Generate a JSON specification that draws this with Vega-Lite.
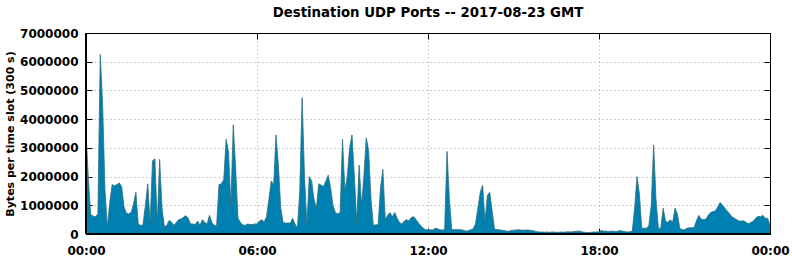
{
"$schema": "https://vega.github.io/schema/vega-lite/v6.json",
"width": 684,
"height": 201,
"autosize": "none",
"padding": {"left": 86, "top": 33, "right": 22, "bottom": 25},
"background": "white",
"config": {"font": "DejaVu Sans", "view": {"stroke": null}},
"title": {"text": "Destination UDP Ports -- 2017-08-23 GMT", "font": "DejaVu Sans", "fontSize": 13.3, "fontWeight": "bold", "color": "black", "anchor": "middle", "offset": 8},
"data": {"values": [
{"t":"2017-08-23T00:00Z","b":3550000},{"t":"2017-08-23T00:05Z","b":1900000},{"t":"2017-08-23T00:10Z","b":680000},{"t":"2017-08-23T00:15Z","b":620000},{"t":"2017-08-23T00:20Z","b":600000},{"t":"2017-08-23T00:25Z","b":700000},{"t":"2017-08-23T00:30Z","b":6250000},{"t":"2017-08-23T00:35Z","b":4500000},{"t":"2017-08-23T00:40Z","b":1500000},{"t":"2017-08-23T00:45Z","b":250000},{"t":"2017-08-23T00:50Z","b":1100000},{"t":"2017-08-23T00:55Z","b":1720000},
{"t":"2017-08-23T01:00Z","b":1680000},{"t":"2017-08-23T01:05Z","b":1720000},{"t":"2017-08-23T01:10Z","b":1780000},{"t":"2017-08-23T01:15Z","b":1650000},{"t":"2017-08-23T01:20Z","b":950000},{"t":"2017-08-23T01:25Z","b":720000},{"t":"2017-08-23T01:30Z","b":700000},{"t":"2017-08-23T01:35Z","b":750000},{"t":"2017-08-23T01:40Z","b":1050000},{"t":"2017-08-23T01:45Z","b":1450000},{"t":"2017-08-23T01:50Z","b":350000},{"t":"2017-08-23T01:55Z","b":300000},
{"t":"2017-08-23T02:00Z","b":320000},{"t":"2017-08-23T02:05Z","b":1000000},{"t":"2017-08-23T02:10Z","b":1750000},{"t":"2017-08-23T02:15Z","b":350000},{"t":"2017-08-23T02:20Z","b":2550000},{"t":"2017-08-23T02:25Z","b":2620000},{"t":"2017-08-23T02:30Z","b":350000},{"t":"2017-08-23T02:35Z","b":2600000},{"t":"2017-08-23T02:40Z","b":900000},{"t":"2017-08-23T02:45Z","b":250000},{"t":"2017-08-23T02:50Z","b":300000},{"t":"2017-08-23T02:55Z","b":470000},
{"t":"2017-08-23T03:00Z","b":420000},{"t":"2017-08-23T03:05Z","b":300000},{"t":"2017-08-23T03:10Z","b":400000},{"t":"2017-08-23T03:15Z","b":500000},{"t":"2017-08-23T03:20Z","b":520000},{"t":"2017-08-23T03:25Z","b":580000},{"t":"2017-08-23T03:30Z","b":640000},{"t":"2017-08-23T03:35Z","b":550000},{"t":"2017-08-23T03:40Z","b":350000},{"t":"2017-08-23T03:45Z","b":350000},{"t":"2017-08-23T03:50Z","b":330000},{"t":"2017-08-23T03:55Z","b":450000},
{"t":"2017-08-23T04:00Z","b":300000},{"t":"2017-08-23T04:05Z","b":500000},{"t":"2017-08-23T04:10Z","b":400000},{"t":"2017-08-23T04:15Z","b":350000},{"t":"2017-08-23T04:20Z","b":650000},{"t":"2017-08-23T04:25Z","b":400000},{"t":"2017-08-23T04:30Z","b":300000},{"t":"2017-08-23T04:35Z","b":300000},{"t":"2017-08-23T04:40Z","b":1720000},{"t":"2017-08-23T04:45Z","b":1750000},{"t":"2017-08-23T04:50Z","b":1900000},{"t":"2017-08-23T04:55Z","b":3300000},
{"t":"2017-08-23T05:00Z","b":2850000},{"t":"2017-08-23T05:05Z","b":1000000},{"t":"2017-08-23T05:10Z","b":3800000},{"t":"2017-08-23T05:15Z","b":2300000},{"t":"2017-08-23T05:20Z","b":550000},{"t":"2017-08-23T05:25Z","b":400000},{"t":"2017-08-23T05:30Z","b":320000},{"t":"2017-08-23T05:35Z","b":300000},{"t":"2017-08-23T05:40Z","b":350000},{"t":"2017-08-23T05:45Z","b":330000},{"t":"2017-08-23T05:50Z","b":330000},{"t":"2017-08-23T05:55Z","b":350000},
{"t":"2017-08-23T06:00Z","b":350000},{"t":"2017-08-23T06:05Z","b":450000},{"t":"2017-08-23T06:10Z","b":500000},{"t":"2017-08-23T06:15Z","b":420000},{"t":"2017-08-23T06:20Z","b":600000},{"t":"2017-08-23T06:25Z","b":1200000},{"t":"2017-08-23T06:30Z","b":1850000},{"t":"2017-08-23T06:35Z","b":1700000},{"t":"2017-08-23T06:40Z","b":3450000},{"t":"2017-08-23T06:45Z","b":2400000},{"t":"2017-08-23T06:50Z","b":900000},{"t":"2017-08-23T06:55Z","b":400000},
{"t":"2017-08-23T07:00Z","b":380000},{"t":"2017-08-23T07:05Z","b":380000},{"t":"2017-08-23T07:10Z","b":380000},{"t":"2017-08-23T07:15Z","b":550000},{"t":"2017-08-23T07:20Z","b":350000},{"t":"2017-08-23T07:25Z","b":200000},{"t":"2017-08-23T07:30Z","b":1500000},{"t":"2017-08-23T07:35Z","b":4750000},{"t":"2017-08-23T07:40Z","b":2000000},{"t":"2017-08-23T07:45Z","b":300000},{"t":"2017-08-23T07:50Z","b":2000000},{"t":"2017-08-23T07:55Z","b":1850000},
{"t":"2017-08-23T08:00Z","b":1200000},{"t":"2017-08-23T08:05Z","b":900000},{"t":"2017-08-23T08:10Z","b":1750000},{"t":"2017-08-23T08:15Z","b":1700000},{"t":"2017-08-23T08:20Z","b":1650000},{"t":"2017-08-23T08:25Z","b":1850000},{"t":"2017-08-23T08:30Z","b":2050000},{"t":"2017-08-23T08:35Z","b":1600000},{"t":"2017-08-23T08:40Z","b":1000000},{"t":"2017-08-23T08:45Z","b":750000},{"t":"2017-08-23T08:50Z","b":700000},{"t":"2017-08-23T08:55Z","b":750000},
{"t":"2017-08-23T09:00Z","b":3300000},{"t":"2017-08-23T09:05Z","b":1500000},{"t":"2017-08-23T09:10Z","b":2000000},{"t":"2017-08-23T09:15Z","b":3000000},{"t":"2017-08-23T09:20Z","b":3450000},{"t":"2017-08-23T09:25Z","b":2000000},{"t":"2017-08-23T09:30Z","b":400000},{"t":"2017-08-23T09:35Z","b":2400000},{"t":"2017-08-23T09:40Z","b":1000000},{"t":"2017-08-23T09:45Z","b":2000000},{"t":"2017-08-23T09:50Z","b":3350000},{"t":"2017-08-23T09:55Z","b":2900000},
{"t":"2017-08-23T10:00Z","b":1200000},{"t":"2017-08-23T10:05Z","b":300000},{"t":"2017-08-23T10:10Z","b":320000},{"t":"2017-08-23T10:15Z","b":320000},{"t":"2017-08-23T10:20Z","b":1600000},{"t":"2017-08-23T10:25Z","b":2250000},{"t":"2017-08-23T10:30Z","b":500000},{"t":"2017-08-23T10:35Z","b":650000},{"t":"2017-08-23T10:40Z","b":750000},{"t":"2017-08-23T10:45Z","b":600000},{"t":"2017-08-23T10:50Z","b":750000},{"t":"2017-08-23T10:55Z","b":550000},
{"t":"2017-08-23T11:00Z","b":400000},{"t":"2017-08-23T11:05Z","b":350000},{"t":"2017-08-23T11:10Z","b":450000},{"t":"2017-08-23T11:15Z","b":500000},{"t":"2017-08-23T11:20Z","b":450000},{"t":"2017-08-23T11:25Z","b":580000},{"t":"2017-08-23T11:30Z","b":600000},{"t":"2017-08-23T11:35Z","b":500000},{"t":"2017-08-23T11:40Z","b":380000},{"t":"2017-08-23T11:45Z","b":280000},{"t":"2017-08-23T11:50Z","b":200000},{"t":"2017-08-23T11:55Z","b":150000},
{"t":"2017-08-23T12:00Z","b":150000},{"t":"2017-08-23T12:05Z","b":150000},{"t":"2017-08-23T12:10Z","b":140000},{"t":"2017-08-23T12:15Z","b":200000},{"t":"2017-08-23T12:20Z","b":180000},{"t":"2017-08-23T12:25Z","b":150000},{"t":"2017-08-23T12:30Z","b":140000},{"t":"2017-08-23T12:35Z","b":150000},{"t":"2017-08-23T12:40Z","b":2880000},{"t":"2017-08-23T12:45Z","b":1200000},{"t":"2017-08-23T12:50Z","b":150000},{"t":"2017-08-23T12:55Z","b":150000},
{"t":"2017-08-23T13:00Z","b":160000},{"t":"2017-08-23T13:05Z","b":150000},{"t":"2017-08-23T13:10Z","b":150000},{"t":"2017-08-23T13:15Z","b":130000},{"t":"2017-08-23T13:20Z","b":100000},{"t":"2017-08-23T13:25Z","b":120000},{"t":"2017-08-23T13:30Z","b":150000},{"t":"2017-08-23T13:35Z","b":180000},{"t":"2017-08-23T13:40Z","b":350000},{"t":"2017-08-23T13:45Z","b":900000},{"t":"2017-08-23T13:50Z","b":1450000},{"t":"2017-08-23T13:55Z","b":1700000},
{"t":"2017-08-23T14:00Z","b":450000},{"t":"2017-08-23T14:05Z","b":1350000},{"t":"2017-08-23T14:10Z","b":1450000},{"t":"2017-08-23T14:15Z","b":800000},{"t":"2017-08-23T14:20Z","b":170000},{"t":"2017-08-23T14:25Z","b":150000},{"t":"2017-08-23T14:30Z","b":150000},{"t":"2017-08-23T14:35Z","b":130000},{"t":"2017-08-23T14:40Z","b":120000},{"t":"2017-08-23T14:45Z","b":100000},{"t":"2017-08-23T14:50Z","b":100000},{"t":"2017-08-23T14:55Z","b":120000},
{"t":"2017-08-23T15:00Z","b":130000},{"t":"2017-08-23T15:05Z","b":140000},{"t":"2017-08-23T15:10Z","b":150000},{"t":"2017-08-23T15:15Z","b":140000},{"t":"2017-08-23T15:20Z","b":130000},{"t":"2017-08-23T15:25Z","b":140000},{"t":"2017-08-23T15:30Z","b":140000},{"t":"2017-08-23T15:35Z","b":130000},{"t":"2017-08-23T15:40Z","b":120000},{"t":"2017-08-23T15:45Z","b":100000},{"t":"2017-08-23T15:50Z","b":80000},{"t":"2017-08-23T15:55Z","b":70000},
{"t":"2017-08-23T16:00Z","b":70000},{"t":"2017-08-23T16:05Z","b":60000},{"t":"2017-08-23T16:10Z","b":70000},{"t":"2017-08-23T16:15Z","b":60000},{"t":"2017-08-23T16:20Z","b":70000},{"t":"2017-08-23T16:25Z","b":70000},{"t":"2017-08-23T16:30Z","b":60000},{"t":"2017-08-23T16:35Z","b":60000},{"t":"2017-08-23T16:40Z","b":70000},{"t":"2017-08-23T16:45Z","b":60000},{"t":"2017-08-23T16:50Z","b":70000},{"t":"2017-08-23T16:55Z","b":80000},
{"t":"2017-08-23T17:00Z","b":70000},{"t":"2017-08-23T17:05Z","b":80000},{"t":"2017-08-23T17:10Z","b":90000},{"t":"2017-08-23T17:15Z","b":100000},{"t":"2017-08-23T17:20Z","b":100000},{"t":"2017-08-23T17:25Z","b":70000},{"t":"2017-08-23T17:30Z","b":60000},{"t":"2017-08-23T17:35Z","b":50000},{"t":"2017-08-23T17:40Z","b":50000},{"t":"2017-08-23T17:45Z","b":60000},{"t":"2017-08-23T17:50Z","b":70000},{"t":"2017-08-23T17:55Z","b":70000},
{"t":"2017-08-23T18:00Z","b":80000},{"t":"2017-08-23T18:05Z","b":120000},{"t":"2017-08-23T18:10Z","b":100000},{"t":"2017-08-23T18:15Z","b":100000},{"t":"2017-08-23T18:20Z","b":90000},{"t":"2017-08-23T18:25Z","b":100000},{"t":"2017-08-23T18:30Z","b":100000},{"t":"2017-08-23T18:35Z","b":90000},{"t":"2017-08-23T18:40Z","b":100000},{"t":"2017-08-23T18:45Z","b":120000},{"t":"2017-08-23T18:50Z","b":100000},{"t":"2017-08-23T18:55Z","b":80000},
{"t":"2017-08-23T19:00Z","b":70000},{"t":"2017-08-23T19:05Z","b":80000},{"t":"2017-08-23T19:10Z","b":100000},{"t":"2017-08-23T19:15Z","b":900000},{"t":"2017-08-23T19:20Z","b":2000000},{"t":"2017-08-23T19:25Z","b":1400000},{"t":"2017-08-23T19:30Z","b":200000},{"t":"2017-08-23T19:35Z","b":200000},{"t":"2017-08-23T19:40Z","b":200000},{"t":"2017-08-23T19:45Z","b":300000},{"t":"2017-08-23T19:50Z","b":1000000},{"t":"2017-08-23T19:55Z","b":3100000},
{"t":"2017-08-23T20:00Z","b":1200000},{"t":"2017-08-23T20:05Z","b":200000},{"t":"2017-08-23T20:10Z","b":200000},{"t":"2017-08-23T20:15Z","b":900000},{"t":"2017-08-23T20:20Z","b":450000},{"t":"2017-08-23T20:25Z","b":400000},{"t":"2017-08-23T20:30Z","b":500000},{"t":"2017-08-23T20:35Z","b":400000},{"t":"2017-08-23T20:40Z","b":900000},{"t":"2017-08-23T20:45Z","b":700000},{"t":"2017-08-23T20:50Z","b":200000},{"t":"2017-08-23T20:55Z","b":150000},
{"t":"2017-08-23T21:00Z","b":150000},{"t":"2017-08-23T21:05Z","b":200000},{"t":"2017-08-23T21:10Z","b":220000},{"t":"2017-08-23T21:15Z","b":220000},{"t":"2017-08-23T21:20Z","b":220000},{"t":"2017-08-23T21:25Z","b":450000},{"t":"2017-08-23T21:30Z","b":650000},{"t":"2017-08-23T21:35Z","b":520000},{"t":"2017-08-23T21:40Z","b":500000},{"t":"2017-08-23T21:45Z","b":520000},{"t":"2017-08-23T21:50Z","b":650000},{"t":"2017-08-23T21:55Z","b":750000},
{"t":"2017-08-23T22:00Z","b":780000},{"t":"2017-08-23T22:05Z","b":800000},{"t":"2017-08-23T22:10Z","b":950000},{"t":"2017-08-23T22:15Z","b":1100000},{"t":"2017-08-23T22:20Z","b":1000000},{"t":"2017-08-23T22:25Z","b":900000},{"t":"2017-08-23T22:30Z","b":800000},{"t":"2017-08-23T22:35Z","b":700000},{"t":"2017-08-23T22:40Z","b":600000},{"t":"2017-08-23T22:45Z","b":550000},{"t":"2017-08-23T22:50Z","b":500000},{"t":"2017-08-23T22:55Z","b":450000},
{"t":"2017-08-23T23:00Z","b":450000},{"t":"2017-08-23T23:05Z","b":460000},{"t":"2017-08-23T23:10Z","b":400000},{"t":"2017-08-23T23:15Z","b":360000},{"t":"2017-08-23T23:20Z","b":400000},{"t":"2017-08-23T23:25Z","b":450000},{"t":"2017-08-23T23:30Z","b":550000},{"t":"2017-08-23T23:35Z","b":620000},{"t":"2017-08-23T23:40Z","b":600000},{"t":"2017-08-23T23:45Z","b":650000},{"t":"2017-08-23T23:50Z","b":550000},{"t":"2017-08-23T23:55Z","b":550000},
{"t":"2017-08-24T00:00Z","b":300000}
]},
"resolve": {"axis": {"x": "independent", "y": "independent"}},
"layer": [
{
"mark": {"type": "area", "color": "#0080b0", "opacity": 1, "interpolate": "linear", "line": {"color": "#2f6f7a", "strokeWidth": 0.8}},
"encoding": {
"x": {"field": "t", "type": "temporal",
"scale": {"type": "utc", "domain": [{"year": 2017, "month": 8, "date": 23, "hours": 0, "utc": true}, {"year": 2017, "month": 8, "date": 24, "hours": 0, "utc": true}]},
"axis": {"orient": "bottom", "title": null, "format": "%H:%M",
"values": [{"year": 2017, "month": 8, "date": 23, "hours": 0, "utc": true}, {"year": 2017, "month": 8, "date": 23, "hours": 6, "utc": true}, {"year": 2017, "month": 8, "date": 23, "hours": 12, "utc": true}, {"year": 2017, "month": 8, "date": 23, "hours": 18, "utc": true}, {"year": 2017, "month": 8, "date": 24, "hours": 0, "utc": true}],
"grid": true, "gridColor": "#a0a0a0", "gridDash": [1, 3], "gridWidth": 1, "domain": false,
"ticks": true, "tickSize": -6, "tickColor": "black", "labelPadding": 17,
"labelFont": "DejaVu Sans", "labelFontSize": 12, "labelFontWeight": "bold", "labelColor": "black", "labelFlush": false, "labelBound": false, "labelOverlap": false}},
"y": {"field": "b", "type": "quantitative",
"scale": {"domain": [0, 7000000], "nice": false},
"axis": {"orient": "left", "title": "Bytes per time slot (300 s)", "titleFont": "DejaVu Sans", "titleFontSize": 11, "titleFontWeight": "bold", "titleColor": "black", "titlePadding": 4,
"values": [0, 1000000, 2000000, 3000000, 4000000, 5000000, 6000000, 7000000], "format": "d",
"grid": true, "gridColor": "#a0a0a0", "gridDash": [1, 3], "gridWidth": 1, "domain": false,
"ticks": true, "tickSize": -6, "tickColor": "black", "labelPadding": 14,
"labelFont": "DejaVu Sans", "labelFontSize": 12, "labelFontWeight": "bold", "labelColor": "black", "labelOverlap": false}}
}
},
{
"mark": {"type": "area", "opacity": 0},
"encoding": {
"x": {"field": "t", "type": "temporal",
"axis": {"orient": "top", "title": null, "labels": false, "grid": false, "domain": true, "domainColor": "black", "domainWidth": 1, "zindex": 1,
"values": [{"year": 2017, "month": 8, "date": 23, "hours": 0, "utc": true}, {"year": 2017, "month": 8, "date": 23, "hours": 6, "utc": true}, {"year": 2017, "month": 8, "date": 23, "hours": 12, "utc": true}, {"year": 2017, "month": 8, "date": 23, "hours": 18, "utc": true}, {"year": 2017, "month": 8, "date": 24, "hours": 0, "utc": true}],
"ticks": true, "tickSize": -6, "tickColor": "black"}},
"y": {"field": "b", "type": "quantitative",
"axis": {"orient": "right", "title": null, "labels": false, "grid": false, "domain": true, "domainColor": "black", "domainWidth": 1, "zindex": 1,
"values": [0, 1000000, 2000000, 3000000, 4000000, 5000000, 6000000, 7000000],
"ticks": true, "tickSize": -6, "tickColor": "black"}}
}
},
{
"mark": {"type": "rule", "color": "black", "strokeWidth": 1},
"encoding": {"y": {"datum": 0, "axis": null}}
},
{
"mark": {"type": "rule", "color": "black", "strokeWidth": 1},
"encoding": {"x": {"datum": {"year": 2017, "month": 8, "date": 23, "hours": 0, "utc": true}, "type": "temporal", "axis": null}}
}
]
}
